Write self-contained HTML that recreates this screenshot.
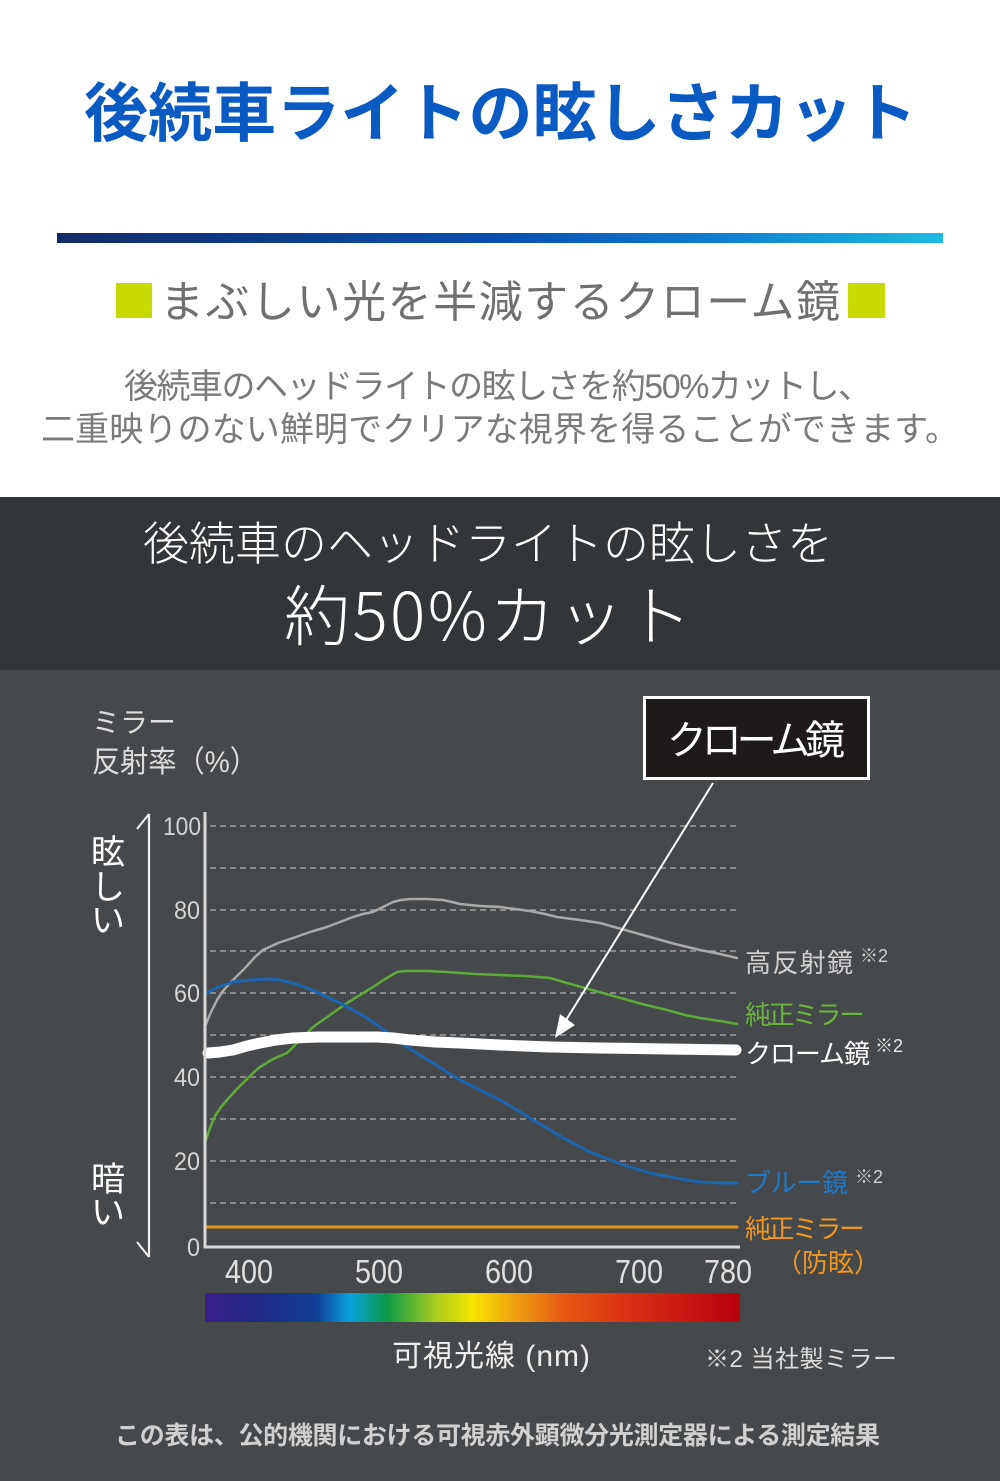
<!DOCTYPE html>
<html><head><meta charset="utf-8">
<style>
html,body{margin:0;padding:0;background:#fff;}
svg{display:block;}
</style></head>
<body>
<svg width="1000" height="1481" viewBox="0 0 1000 1481" xmlns="http://www.w3.org/2000/svg" font-family="'Liberation Sans','Noto Sans CJK JP',sans-serif">
<defs>
<linearGradient id="bar" x1="0" x2="1" y1="0" y2="0">
<stop offset="0" stop-color="#122c66"/>
<stop offset="0.5" stop-color="#0a4fb2"/>
<stop offset="0.75" stop-color="#0f7fd0"/>
<stop offset="1" stop-color="#1cbbe2"/>
</linearGradient>
<linearGradient id="spec" x1="0" x2="1" y1="0" y2="0">
<stop offset="0" stop-color="#3b1f8a"/>
<stop offset="0.10" stop-color="#1f2a86"/>
<stop offset="0.21" stop-color="#113f94"/>
<stop offset="0.27" stop-color="#0aa0e0"/>
<stop offset="0.34" stop-color="#0a9a48"/>
<stop offset="0.43" stop-color="#a8cc1e"/>
<stop offset="0.50" stop-color="#f5e600"/>
<stop offset="0.58" stop-color="#f0a010"/>
<stop offset="0.67" stop-color="#e65a12"/>
<stop offset="0.78" stop-color="#dc3214"/>
<stop offset="1" stop-color="#b80010"/>
</linearGradient>
</defs>

<!-- top white section -->
<rect x="0" y="0" width="1000" height="497" fill="#ffffff"/>
<text x="84" y="136" font-size="64" font-weight="bold" fill="#0a5ac3" textLength="833" lengthAdjust="spacing">後続車ライトの眩しさカット</text>
<rect x="57" y="233" width="886" height="10" fill="url(#bar)"/>

<rect x="116" y="283" width="36" height="35" fill="#c6da00"/>
<rect x="848" y="283" width="37" height="35" fill="#c6da00"/>
<text x="160" y="317" font-size="44" fill="#707070" textLength="680" lengthAdjust="spacing">まぶしい光を半減するクローム鏡</text>

<text x="124" y="398" font-size="34" fill="#7a7a7a" textLength="748" lengthAdjust="spacing">後続車のヘッドライトの眩しさを約50%カットし、</text>
<text x="41" y="441" font-size="34" fill="#7a7a7a" textLength="918" lengthAdjust="spacing">二重映りのない鮮明でクリアな視界を得ることができます。</text>

<!-- dark band -->
<rect x="0" y="497" width="1000" height="173" fill="#333638"/>
<text x="143" y="560" font-size="46" font-weight="300" fill="#ffffff" font-family="'Noto Sans CJK JP',sans-serif" textLength="690" lengthAdjust="spacing">後続車のヘッドライトの眩しさを</text>
<text x="284" y="640" font-size="66" font-weight="300" fill="#ffffff" font-family="'Noto Sans CJK JP',sans-serif" textLength="408" lengthAdjust="spacing">約50%カット</text>

<!-- chart area -->
<rect x="0" y="670" width="1000" height="811" fill="#46494b"/>

<text x="92" y="732" font-size="28" fill="#dddddd">ミラー</text>
<text x="92" y="772" font-size="30" fill="#dddddd" textLength="166" lengthAdjust="spacingAndGlyphs">反射率（%）</text>

<!-- left arrow -->
<g stroke="#eeeeee" stroke-width="2.2" fill="none">
<line x1="149" y1="814" x2="149" y2="1257"/>
<line x1="149" y1="814" x2="137" y2="829"/>
<line x1="149" y1="1257" x2="137" y2="1242"/>
</g>
<g font-size="34" fill="#ffffff" text-anchor="middle">
<text x="108" y="864">眩</text>
<text x="108" y="899">し</text>
<text x="108" y="932">い</text>
<text x="108" y="1191">暗</text>
<text x="108" y="1224">い</text>
</g>

<!-- grid -->
<g stroke="#b0b0b0" stroke-width="1.2" stroke-dasharray="6 4">
<line x1="210" y1="826" x2="737" y2="826"/>
<line x1="210" y1="868" x2="737" y2="868"/>
<line x1="210" y1="910" x2="737" y2="910"/>
<line x1="210" y1="951" x2="737" y2="951"/>
<line x1="210" y1="993" x2="737" y2="993"/>
<line x1="210" y1="1035" x2="737" y2="1035"/>
<line x1="210" y1="1077" x2="737" y2="1077"/>
<line x1="210" y1="1119" x2="737" y2="1119"/>
<line x1="210" y1="1161" x2="737" y2="1161"/>
<line x1="210" y1="1203" x2="737" y2="1203"/>
</g>

<!-- y labels -->
<g font-size="25" fill="#d4d4d4" text-anchor="end">
<text x="201" y="835" textLength="38" lengthAdjust="spacingAndGlyphs">100</text>
<text x="200" y="919" textLength="26" lengthAdjust="spacingAndGlyphs">80</text>
<text x="200" y="1002" textLength="26" lengthAdjust="spacingAndGlyphs">60</text>
<text x="200" y="1086" textLength="26" lengthAdjust="spacingAndGlyphs">40</text>
<text x="200" y="1170" textLength="26" lengthAdjust="spacingAndGlyphs">20</text>
<text x="200" y="1256" textLength="13" lengthAdjust="spacingAndGlyphs">0</text>
</g>

<!-- series -->
<g fill="none" stroke-linejoin="round" stroke-linecap="round">
<polyline stroke="#e8921e" stroke-width="3" points="206,1227 737,1227"/>
<polyline stroke="#a9a9a9" stroke-width="2.5" points="206,1024 211,1012 217,1000 223,991 230,983 238,975 246,967 255,957 263,950 278,943 293,938 310,932 327,927 340,922 353,917 363,914 373,912 383,907 393,902 401,900 410,899 427,899 443,900 452,902 460,904 480,906 500,907 515,909 530,911 545,914 557,917 580,920 600,923 625,930 650,937 675,944 700,950 720,954 737,958"/>
<polyline stroke="#5fa83a" stroke-width="2.5" points="206,1140 210,1128 215,1116 221,1107 227,1100 236,1090 245,1081 253,1073 260,1067 273,1059 287,1053 300,1040 313,1027 330,1015 347,1003 360,995 373,987 385,979 397,972 405,971 427,971 447,972 475,974 500,975 525,976 550,978 567,983 592,990 617,997 642,1004 667,1010 685,1015 700,1018 720,1021 737,1024"/>
<polyline stroke="#1c65b0" stroke-width="3" points="206,993 218,987 233,982 250,980 267,979 280,980 293,983 310,989 327,997 340,1003 353,1010 367,1018 380,1027 393,1037 407,1047 420,1055 433,1063 447,1072 460,1080 480,1090 500,1100 517,1110 533,1120 550,1130 567,1140 588,1151 610,1160 630,1167 650,1173 675,1178 700,1182 720,1183 737,1183"/>
<polyline stroke="#ffffff" stroke-width="11" points="208,1053 220,1052 233,1050 247,1046 260,1043 276,1040 293,1038 318,1037 343,1037 377,1037 393,1038 410,1040 435,1042 460,1043 500,1045 550,1047 600,1048 667,1049 736,1050"/>
</g>

<!-- axes -->
<polyline points="205,812 205,1247 740,1247" fill="none" stroke="#d8d8d8" stroke-width="3"/>

<!-- x labels -->
<g font-size="33" fill="#e0e0e0" text-anchor="middle">
<text x="249" y="1283" textLength="48" lengthAdjust="spacingAndGlyphs">400</text>
<text x="379" y="1283" textLength="48" lengthAdjust="spacingAndGlyphs">500</text>
<text x="509" y="1283" textLength="48" lengthAdjust="spacingAndGlyphs">600</text>
<text x="639" y="1283" textLength="48" lengthAdjust="spacingAndGlyphs">700</text>
<text x="728" y="1283" textLength="48" lengthAdjust="spacingAndGlyphs">780</text>
</g>

<!-- spectrum -->
<rect x="205" y="1293" width="535" height="29" fill="url(#spec)"/>

<!-- callout -->
<rect x="644.5" y="697.5" width="224" height="81" fill="#1e1a1a" stroke="#ffffff" stroke-width="3"/>
<text x="756" y="754" font-size="40" fill="#ffffff" text-anchor="middle" textLength="178" lengthAdjust="spacing">クローム鏡</text>
<line x1="713" y1="783" x2="563" y2="1025" stroke="#ffffff" stroke-width="2"/>
<polygon points="555,1038 575,1025 560,1014" fill="#ffffff"/>

<!-- right labels -->
<text x="745" y="972" font-size="26" fill="#cfcfcf" textLength="108" lengthAdjust="spacing">高反射鏡</text>
<text x="860" y="962" font-size="18" fill="#cfcfcf">※2</text>
<text x="745" y="1024" font-size="26" fill="#6cb33f" textLength="120" lengthAdjust="spacing">純正ミラー</text>
<text x="745" y="1063" font-size="26" fill="#ffffff" textLength="125" lengthAdjust="spacing">クローム鏡</text>
<text x="875" y="1052" font-size="18" fill="#e6e6e6">※2</text>
<text x="745" y="1192" font-size="26" fill="#1f78c8" textLength="103" lengthAdjust="spacing">ブルー鏡</text>
<text x="855" y="1183" font-size="18" fill="#cfcfcf">※2</text>
<text x="745" y="1238" font-size="26" fill="#f0961e" textLength="120" lengthAdjust="spacing">純正ミラー</text>
<text x="880" y="1272" font-size="26" fill="#f0961e" text-anchor="end">（防眩）</text>

<!-- bottom texts -->
<text x="392" y="1366" font-size="30" fill="#eeeeee" textLength="198" lengthAdjust="spacing">可視光線 (nm)</text>
<text x="705" y="1367" font-size="24" fill="#dddddd" textLength="192" lengthAdjust="spacing">※2 当社製ミラー</text>
<text x="115" y="1444" font-size="25" font-weight="bold" fill="#d0d0d0" textLength="765" lengthAdjust="spacing">この表は、公的機関における可視赤外顕微分光測定器による測定結果</text>
</svg>
</body></html>
